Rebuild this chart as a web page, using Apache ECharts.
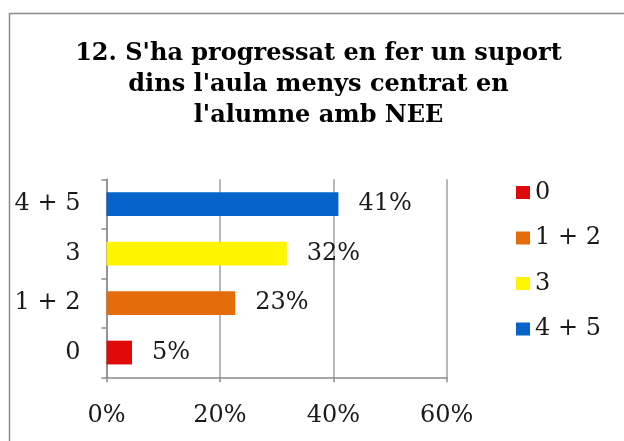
<!DOCTYPE html>
<html>
<head>
<meta charset="utf-8">
<script src="https://cdn.jsdelivr.net/npm/echarts@6/dist/echarts.min.js"></script>
<style>html,body{margin:0;padding:0;background:#fff}#c{width:624px;height:441px}</style>
</head>
<body>
<div id="c"></div>
<script>
var titleLines = ["12. S'ha progressat en fer un suport", "dins l'aula menys centrat en", "l'alumne amb NEE"];
var categories = ['0', '1 + 2', '3', '4 + 5'];
var values = [4.5, 22.7, 31.8, 40.9];
var colors = ['#DF0A0A', '#E46C0A', '#FFF500', '#0563C9'];
var xTicks = [0, 20, 40, 60];

var FONT = 'DejaVu Serif';
var chart = echarts.init(document.getElementById('c'), null, {renderer: 'canvas'});

var series = categories.map(function (name, i) {
  var d = categories.map(function (c, j) { return j === i ? values[i] : null; });
  return {
    name: name,
    type: 'bar',
    stack: 'all',
    barWidth: '48%',
    data: d,
    itemStyle: {color: colors[i]},
    label: {
      show: true,
      position: 'right',
      distance: 20,
      fontFamily: FONT,
      fontSize: 24,
      color: '#1a1a1a',
      formatter: function (p) { return Math.round(p.value) + '%'; }
    }
  };
});

chart.setOption({
  animation: false,
  backgroundColor: '#fff',
  graphic: [
    {type: 'rect', left: 7, top: 11, shape: {width: 700, height: 500}, style: {fill: 'none', stroke: '#8a8a8a', lineWidth: 1.5}},
    {type: 'text', x: 318.5, y: 38.5, style: {text: titleLines.join('\n'), font: 'bold 24px "DejaVu Serif"', lineHeight: 31, textAlign: 'center', textVerticalAlign: 'top', fill: '#000'}}
  ],
  grid: {left: 106.5, right: 177.3, top: 179.3, bottom: 63.7, containLabel: false},
  legend: {
    orient: 'vertical',
    left: 511,
    top: 175.5,
    icon: 'rect',
    itemWidth: 14,
    itemHeight: 13,
    itemGap: 21.5,
    data: categories,
    textStyle: {fontFamily: FONT, fontSize: 24, lineHeight: 24, color: '#1a1a1a'}
  },
  xAxis: {
    type: 'value',
    min: xTicks[0],
    max: xTicks[xTicks.length - 1],
    interval: 20,
    axisLine: {show: true, lineStyle: {color: '#8a8a8a', width: 1.5}},
    axisTick: {show: true, length: 5, lineStyle: {color: '#8a8a8a', width: 1.5}},
    splitLine: {show: true, lineStyle: {color: '#a0a0a0', width: 1.5}},
    axisLabel: {margin: 26, fontFamily: FONT, fontSize: 24, color: '#1a1a1a', formatter: '{value}%'}
  },
  yAxis: {
    type: 'category',
    data: categories,
    axisLine: {show: true, lineStyle: {color: '#8a8a8a', width: 1.5}},
    axisTick: {show: true, length: 5, lineStyle: {color: '#8a8a8a', width: 1.5}},
    axisLabel: {margin: 26, fontFamily: FONT, fontSize: 24, color: '#1a1a1a'}
  },
  series: series
});
</script>
</body>
</html>
